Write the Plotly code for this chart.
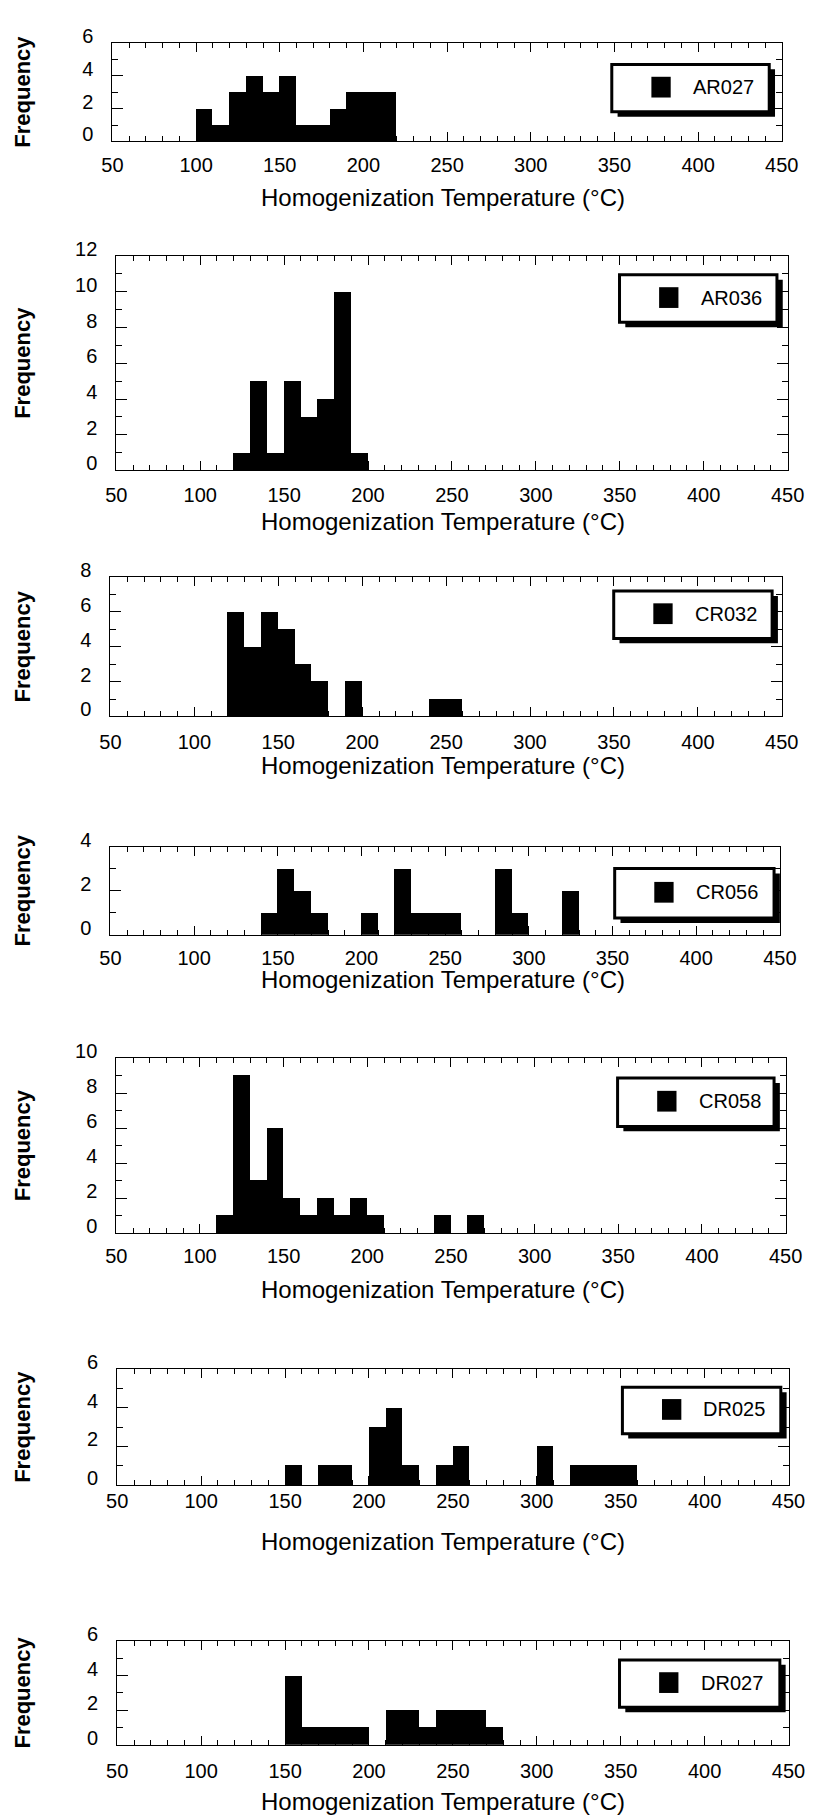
import plotly.graph_objects as go

W, H = 821, 1817

# ---------------- data (bin start in °C, frequency per 10 °C bin) ----------------
samples = ["AR027", "AR036", "CR032", "CR056", "CR058", "DR025", "DR027"]

ar027_bins = [100, 110, 120, 130, 140, 150, 160, 170, 180, 190, 200, 210]
ar027_counts = [2, 1, 3, 4, 3, 4, 1, 1, 2, 3, 3, 3]

ar036_bins = [120, 130, 140, 150, 160, 170, 180, 190]
ar036_counts = [1, 5, 1, 5, 3, 4, 10, 1]

cr032_bins = [120, 130, 140, 150, 160, 170, 190, 240, 250]
cr032_counts = [6, 4, 6, 5, 3, 2, 2, 1, 1]

cr056_bins = [140, 150, 160, 170, 200, 220, 230, 240, 250, 280, 290, 320]
cr056_counts = [1, 3, 2, 1, 1, 3, 1, 1, 1, 3, 1, 2]

cr058_bins = [110, 120, 130, 140, 150, 160, 170, 180, 190, 200, 240, 260]
cr058_counts = [1, 9, 3, 6, 2, 1, 2, 1, 2, 1, 1, 1]

dr025_bins = [150, 170, 180, 200, 210, 220, 240, 250, 300, 320, 330, 340, 350]
dr025_counts = [1, 1, 1, 3, 4, 1, 1, 2, 2, 1, 1, 1, 1]

dr027_bins = [150, 160, 170, 180, 190, 210, 220, 230, 240, 250, 260, 270]
dr027_counts = [4, 1, 1, 1, 1, 2, 2, 1, 2, 2, 2, 1]

y_max = [6, 12, 8, 4, 10, 6, 6]
x_tick_values = [50, 100, 150, 200, 250, 300, 350, 400, 450]
bin_width = 10

x_title = "Homogenization Temperature (°C)"
y_title = "Frequency"

all_bins = [ar027_bins, ar036_bins, cr032_bins, cr056_bins, cr058_bins, dr025_bins, dr027_bins]
all_counts = [ar027_counts, ar036_counts, cr032_counts, cr056_counts, cr058_counts, dr025_counts, dr027_counts]

# ---------------- layout geometry (pixels) ----------------
# plot boxes: left, right, top, bottom
boxes = [
    (105, 798, 25, 125),
    (109, 804, 241, 458),
    (103, 798, 566, 707),
    (103, 796, 839, 928),
    (109, 802, 1053, 1230),
    (110, 805, 1368, 1485),
    (110, 805, 1643, 1748),
]
title_y = [182, 510, 757, 973, 1287, 1542, 1805]
label_standoff = [6, 7, 8, 5, 5, -2, 8]
legend_boxes = [
    (622, 785, 47, 95),
    (630, 793, 260, 308),
    (624, 788, 580, 628),
    (625, 790, 861, 911),
    (628, 790, 1073, 1122),
    (633, 797, 1386, 1433),
    (630, 796, 1662, 1710),
]

SANS = "Liberation Sans, Arial, Helvetica, sans-serif"


def px(x):
    return x / W


def py(y):
    return 1 - y / H


fig = go.Figure()
shapes = []
annotations = []

for i, (name, bins, counts) in enumerate(zip(samples, all_bins, all_counts)):
    n = "" if i == 0 else str(i + 1)
    fig.add_trace(go.Bar(
        x=bins, y=counts, width=bin_width, offset=0,
        marker=dict(color="black", line=dict(width=0)),
        name=name, showlegend=False,
        xaxis="x" + n, yaxis="y" + n,
    ))
    l, r, t, b = boxes[i]
    axis_common = dict(
        showline=True, linecolor="black", linewidth=1, mirror="allticks",
        ticks="inside", tickcolor="black", tickwidth=1,
        showgrid=False, zeroline=False,
        tickfont=dict(family=SANS, size=20, color="black"),
    )
    fig.update_layout(**{
        "xaxis" + n: dict(
            domain=[px(l), px(r)], anchor="y" + n, range=[50, 450],
            tickvals=x_tick_values, ticklen=9,
            minor=dict(dtick=bin_width, tick0=50, ticks="inside", ticklen=5,
                       tickcolor="black", showgrid=False),
            ticklabelstandoff=label_standoff[i],
            **axis_common,
        ),
        "yaxis" + n: dict(
            domain=[py(b), py(t)], anchor="x" + n, range=[0, y_max[i]],
            dtick=2, ticklen=11,
            minor=dict(dtick=1, ticks="inside", ticklen=6, tickcolor="black", showgrid=False),
            ticklabelstandoff=14, ticklabelshift=-7,
            **axis_common,
        ),
    })
    # axis titles
    annotations.append(dict(
        x=px(447), y=py(title_y[i]), xref="paper", yref="paper",
        text=x_title, showarrow=False, xanchor="center", yanchor="middle",
        font=dict(family=SANS, size=24, color="black"),
    ))
    annotations.append(dict(
        x=px(12), y=py((t + b) / 2), xref="paper", yref="paper",
        text=y_title, showarrow=False, textangle=-90, xanchor="center", yanchor="middle",
        font=dict(family=SANS, size=22, color="black", weight="bold"),
    ))
    # legend frame with shadow
    x0, x1, y0, y1 = legend_boxes[i]
    shapes.append(dict(type="rect", xref="paper", yref="paper",
                       x0=px(x0 + 6), x1=px(x1 + 6), y0=py(y1 + 5), y1=py(y0 + 5),
                       fillcolor="black", line=dict(width=0), layer="above"))
    shapes.append(dict(type="rect", xref="paper", yref="paper",
                       x0=px(x0), x1=px(x1), y0=py(y1), y1=py(y0),
                       fillcolor="white", line=dict(color="black", width=3), layer="above"))
    cy = (y0 + y1) / 2 - 1
    shapes.append(dict(type="rect", xref="paper", yref="paper",
                       x0=px(x0 + 41), x1=px(x0 + 61), y0=py(cy + 10.5), y1=py(cy - 10.5),
                       fillcolor="black", line=dict(width=0), layer="above"))
    annotations.append(dict(
        x=px(x0 + 116), y=py(cy), xref="paper", yref="paper",
        text=name, showarrow=False, xanchor="center", yanchor="middle",
        font=dict(family=SANS, size=20, color="black"),
    ))

fig.update_layout(
    width=W, height=H, autosize=False,
    margin=dict(l=0, r=0, t=0, b=0),
    paper_bgcolor="white", plot_bgcolor="white",
    bargap=0, showlegend=False,
    shapes=shapes, annotations=annotations,
    font=dict(family=SANS, color="black"),
)

fig.write_html("out.html")
